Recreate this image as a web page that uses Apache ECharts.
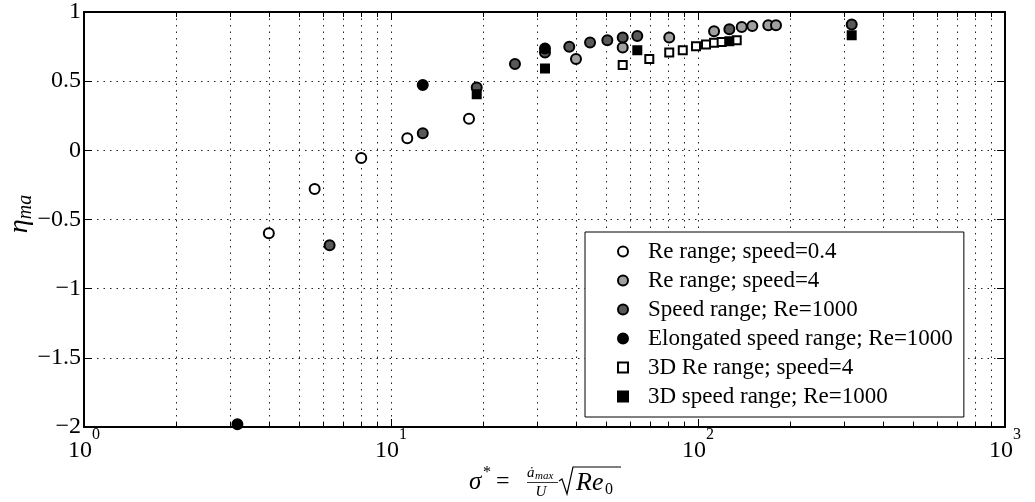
<!DOCTYPE html>
<html><head><meta charset="utf-8">
<script src="https://cdn.jsdelivr.net/npm/echarts@6/dist/echarts.min.js"></script>
<style>html,body{margin:0;padding:0;background:#fff}#c{width:1035px;height:502px}</style>
</head><body><div id="c"></div>
<script>
// ---- data (sigma*, eta_ma) ----
const reRangeSpeed04 = [[4.00,-0.60],[5.64,-0.28],[8.0,-0.055],[11.3,0.088],[17.95,0.228]];
const reRangeSpeed4 = [[40.05,0.66],[56.85,0.743],[80.6,0.815],[112.8,0.861],[138.8,0.892],[150.3,0.899],[169.4,0.904],[179.5,0.904]];
const speedRange = [[6.31,-0.686],[12.69,0.124],[19.02,0.455],[25.34,0.624],[31.74,0.707],[38.08,0.748],[44.5,0.779],[50.66,0.796],[56.85,0.815],[63.43,0.827],[126.5,0.876],[316.7,0.909]];
const elongatedSpeedRange = [[3.16,-1.98],[12.69,0.473],[31.74,0.736]];
const reRange3D = [[56.85,0.617],[69.4,0.66],[80.6,0.707],[89.2,0.724],[98.5,0.753],[106.2,0.765],[112.8,0.777],[119.4,0.784],[133.7,0.796]];
const speedRange3D = [[19.02,0.405],[31.74,0.592],[63.43,0.724],[126.5,0.789],[316.7,0.832]];
const seriesNames = ['Re range; speed=0.4','Re range; speed=4','Speed range; Re=1000','Elongated speed range; Re=1000','3D Re range; speed=4','3D speed range; Re=1000'];
const minorTickValues = [2,3,4,5,6,7,8,9,20,30,40,50,60,70,80,90,200,300,400,500,600,700,800,900];

const FONT = 'Liberation Serif';
const SQUARE = 'path://M0 0H10V10H0Z';
const chart = echarts.init(document.getElementById('c'), null, {renderer:'canvas'});

function scatter(name, data, symbol, size, fill){
  return {name, type:'scatter', data, symbol, symbolSize:size, z:3,
    itemStyle:{color:fill, borderColor:'#000', borderWidth:2, opacity:1}};
}
const axisCommon = {axisLine:{show:true,onZero:false,lineStyle:{color:'#000',width:2}},
  axisTick:{show:true,inside:true,length:8,lineStyle:{color:'#000',width:1}}};
const gridDash = {color:'#222',width:1,type:[1.5,5]};

chart.setOption({
  animation:false,
  backgroundColor:'#fff',
  grid:{left:84,right:30,top:9,bottom:75,containLabel:false},
  xAxis:[
    Object.assign({type:'log',logBase:10,min:1,max:1000,position:'bottom',
      axisLabel:{margin:0,
        formatter:v=>'{b|10}{s|'+Math.round(Math.log10(v))+'}',
        rich:{b:{fontFamily:FONT,fontSize:24,color:'#000',verticalAlign:'bottom',padding:[12,0,0,0]},
              s:{fontFamily:FONT,fontSize:16,color:'#000',verticalAlign:'top'}}},
      splitLine:{show:true,lineStyle:gridDash}}, axisCommon),
    Object.assign({type:'log',logBase:10,min:1,max:1000,position:'top',
      axisLabel:{show:false},splitLine:{show:false}}, axisCommon)
  ],
  yAxis:[
    Object.assign({type:'value',min:-2,max:1,interval:0.5,position:'left',
      axisLabel:{margin:3,fontFamily:FONT,fontSize:24,color:'#000',
        formatter:v=>(v<0?'\u2212'+Math.abs(v):String(v))},
      splitLine:{show:true,lineStyle:gridDash}}, axisCommon),
    Object.assign({type:'value',min:-2,max:1,interval:0.5,position:'right',
      axisLabel:{show:false},splitLine:{show:false}}, axisCommon)
  ],
  legend:{
    data:[
      {name:seriesNames[0],icon:'circle'},{name:seriesNames[1],icon:'circle'},
      {name:seriesNames[2],icon:'circle'},{name:seriesNames[3],icon:'circle'},
      {name:seriesNames[4],icon:SQUARE},{name:seriesNames[5],icon:SQUARE}],
    orient:'vertical', left:585, top:232,
    padding:[8,11,9,32],
    itemWidth:40, itemHeight:10, itemGap:6,
    backgroundColor:'#fff', borderColor:'#000', borderWidth:1, borderRadius:0,
    textStyle:{fontFamily:FONT,fontSize:23,color:'#000'},
    selectedMode:false
  },
  series:[
    {type:'custom', silent:true, z:1, xAxisIndex:0, yAxisIndex:0,
     data:minorTickValues.map(v=>[v,0]), encode:{x:0,y:1},
     renderItem:function(params, api){
       const cs = params.coordSys;
       const x = Math.round(api.coord([api.value(0),0])[0])+0.5;
       const top = cs.y, bot = cs.y+cs.height;
       return {type:'group', children:[
         {type:'line',shape:{x1:x,y1:top,x2:x,y2:bot},style:{stroke:gridDash.color,lineWidth:1,lineDash:gridDash.type}},
         {type:'line',shape:{x1:x,y1:bot,x2:x,y2:bot-5},style:{stroke:'#000',lineWidth:1}},
         {type:'line',shape:{x1:x,y1:top,x2:x,y2:top+5},style:{stroke:'#000',lineWidth:1}}
       ]};
     }},
    scatter(seriesNames[0], reRangeSpeed04, 'circle', 10, '#ffffff'),
    scatter(seriesNames[1], reRangeSpeed4, 'circle', 10, '#a0a0a0'),
    scatter(seriesNames[2], speedRange, 'circle', 10, '#595959'),
    scatter(seriesNames[3], elongatedSpeedRange, 'circle', 10, '#000000'),
    scatter(seriesNames[4], reRange3D, SQUARE, 8, '#ffffff'),
    scatter(seriesNames[5], speedRange3D, SQUARE, 8, '#000000')
  ],
  graphic:[
    {type:'text', x:20, y:214, rotation:Math.PI/2,
     style:{text:'{a|\u03b7}{b|ma}', align:'center', verticalAlign:'middle',
       rich:{a:{fontFamily:FONT,fontStyle:'italic',fontSize:28,fill:'#000'},
             b:{fontFamily:FONT,fontStyle:'italic',fontSize:20,fill:'#000',padding:[12,0,0,0]}}}},
    {type:'text', x:469, y:482, style:{text:'\u03c3', font:'italic 25px '+FONT, fill:'#000', align:'left', verticalAlign:'middle'}},
    {type:'text', x:483, y:473, style:{text:'*', font:'16px '+FONT, fill:'#000', align:'left', verticalAlign:'middle'}},
    {type:'text', x:496, y:482, style:{text:'=', font:'24px '+FONT, fill:'#000', align:'left', verticalAlign:'middle'}},
    {type:'text', x:527, y:473, style:{text:'\u0227', font:'italic 15px '+FONT, fill:'#000', align:'left', verticalAlign:'middle'}},
    {type:'text', x:535, y:476, style:{text:'max', font:'italic 11px '+FONT, fill:'#000', align:'left', verticalAlign:'middle'}},
    {type:'line', shape:{x1:527,y1:482.5,x2:558,y2:482.5}, style:{stroke:'#000',lineWidth:0.8}},
    {type:'text', x:541, y:492, style:{text:'U', font:'italic 15px '+FONT, fill:'#000', align:'center', verticalAlign:'middle'}},
    {type:'polyline', shape:{points:[[559,481],[562,479],[567,494],[573,467],[621,467]]}, style:{stroke:'#000',lineWidth:1.2,fill:null}},
    {type:'text', x:576, y:483, style:{text:'Re', font:'italic 26px '+FONT, fill:'#000', align:'left', verticalAlign:'middle'}},
    {type:'text', x:605, y:490, style:{text:'0', font:'16px '+FONT, fill:'#000', align:'left', verticalAlign:'middle'}}
  ]
});
</script></body></html>
